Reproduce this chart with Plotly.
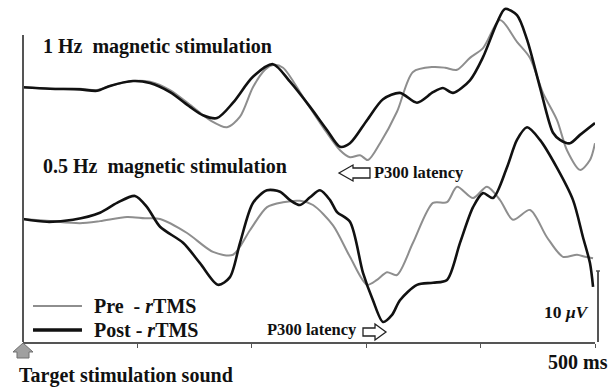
import plotly.graph_objects as go

# ---- data (time in ms, amplitude in microvolts relative to each baseline) ----
t_1hz_post = [0, 23.6, 49.8, 64.7, 76.0, 96.2, 111.0, 128.5, 146.0, 157.3, 169.6, 183.6, 201.0, 218.5,
              233.4, 250.9, 265.7, 277.1, 285.8, 300.7, 314.7, 329.5, 344.4, 358.4, 367.1, 375.9, 390.7,
              402.1, 414.3, 421.3, 431.8, 440.6, 451.9, 463.3, 469.4, 478.1, 486.9, 500]
v_1hz_post = [0, -0.2, -0.3, -0.5, 0.2, 0.9, 0.6, -0.7, -2.8, -4.0, -4.4, -2.2, 1.5, 3.3,
              0.8, -2.8, -6.1, -8.5, -8.0, -4.7, -1.7, -0.8, -2.2, -0.7, -0.1, -0.8, 1.0,
              4.3, 9.2, 11.2, 10.3, 6.8, 0.0, -6.5, -7.5, -8.0, -6.8, -5.1]

t_1hz_pre = [0, 23.6, 49.8, 64.7, 76.0, 96.2, 111.0, 128.5, 146.0, 163.5, 178.3, 189.7, 201.0, 211.5,
             218.5, 227.3, 244.8, 262.2, 277.1, 285.8, 294.6, 301.6, 312.1, 326.9, 340.9, 358.4, 368.9,
             379.4, 390.7, 402.1, 417.0, 431.8, 443.2, 454.5, 466.8, 475.5, 486.9, 495.6, 500]
v_1hz_pre = [0, -0.2, -0.2, -0.4, 0.2, 0.9, 0.8, -0.4, -2.5, -4.7, -5.7, -4.2, 0.0, 2.5,
             3.2, 2.8, -1.4, -5.7, -9.0, -10.0, -9.7, -10.4, -8.0, -3.5, 2.2, 2.9, 2.8,
             2.5, 4.2, 5.6, 9.6, 6.5, 4.2, -0.8, -4.7, -9.0, -11.8, -10.4, -8.0]

t_05hz_post = [0, 21.0, 43.7, 67.3, 82.2, 97.9, 108.4, 119.8, 139.9, 154.7, 170.5, 180.9, 189.7, 201.0,
               213.3, 224.7, 233.4, 242.1, 250.9, 259.6, 268.4, 274.5, 285.8, 297.2, 305.9, 314.7, 322.6,
               329.5, 344.4, 358.4, 370.6, 382.0, 393.4, 402.1, 410.8, 423.1, 431.8, 440.6, 451.9, 466.8,
               480.8, 489.5, 495.6, 498.3]
v_05hz_post = [0, -0.4, -0.1, 0.9, 2.3, 3.3, 1.7, -1.1, -3.4, -6.3, -9.4, -8.3, -3.4, 2.3,
               4.1, 3.9, 2.7, 2.0, 3.1, 4.1, 2.7, 1.0, -0.4, -7.7, -11.6, -14.7, -13.7,
               -11.6, -9.4, -9.1, -8.7, -3.4, 1.7, 3.7, 3.0, 7.4, 11.3, 13.1, 11.3, 7.3,
               2.7, -2.6, -6.3, -9.7]

t_05hz_pre = [0, 23.6, 49.8, 67.3, 90.9, 106.6, 119.8, 143.4, 166.1, 183.6, 198.4, 213.3, 227.3, 242.1,
              253.5, 271.0, 285.8, 300.7, 309.4, 318.2, 326.9, 340.9, 358.4, 370.6, 379.4, 393.4, 405.6,
              417.0, 428.3, 443.2, 458.0, 472.0, 484.3, 491.3, 498.3]
v_05hz_pre = [0, -0.3, -0.6, -0.3, 0.3, 0.1, 0.0, -2.0, -4.7, -5.1, -1.6, 1.7, 2.4, 2.6,
              2.0, -0.9, -5.4, -9.4, -8.7, -7.6, -8.0, -3.4, 2.3, 2.4, 4.6, 3.0, 4.6,
              2.7, -0.1, 1.3, -2.6, -5.4, -5.1, -5.4, -5.6]

tick_ms = [0, 100, 200, 300, 400, 500]

GRAY = "#8e8e8e"
BLACK = "#111111"
AXC = "#555555"
FONT = "Liberation Serif"

fig = go.Figure()
fig.add_trace(go.Scatter(x=t_1hz_pre, y=v_1hz_pre, mode="lines", yaxis="y",
                         line=dict(color=GRAY, width=2, shape="spline", smoothing=0.8)))
fig.add_trace(go.Scatter(x=t_1hz_post, y=v_1hz_post, mode="lines", yaxis="y",
                         line=dict(color=BLACK, width=2.6, shape="spline", smoothing=0.8)))
fig.add_trace(go.Scatter(x=t_05hz_pre, y=v_05hz_pre, mode="lines", yaxis="y2",
                         line=dict(color=GRAY, width=2, shape="spline", smoothing=0.8)))
fig.add_trace(go.Scatter(x=t_05hz_post, y=v_05hz_post, mode="lines", yaxis="y2",
                         line=dict(color=BLACK, width=2.6, shape="spline", smoothing=0.8)))

shapes = []
# left vertical axis
shapes.append(dict(type="line", xref="paper", yref="paper", x0=0, x1=0, y0=0, y1=0.898,
                   line=dict(color=AXC, width=2)))
# scale bar 10 uV
shapes.append(dict(type="line", xref="paper", yref="paper", x0=1.0052, x1=1.0052, y0=0, y1=0.2076,
                   line=dict(color=AXC, width=2)))
shapes.append(dict(type="line", xref="paper", yref="paper", x0=1.0017, x1=1.0087, y0=0.2076, y1=0.2076,
                   line=dict(color=AXC, width=1.5)))
# legend lines
shapes.append(dict(type="line", xref="paper", yref="paper", x0=0.0175, x1=0.1031, y0=0.1053, y1=0.1053,
                   line=dict(color=GRAY, width=2)))
shapes.append(dict(type="line", xref="paper", yref="paper", x0=0.0175, x1=0.1031, y0=0.0351, y1=0.0351,
                   line=dict(color=BLACK, width=3.5)))
# stimulus marker (house-shaped arrow)
shapes.append(dict(type="path", xref="paper", yref="paper",
                   path="M 0,-0.003 L 0.0175,-0.0292 L 0.0105,-0.0292 L 0.0105,-0.0468 "
                        "L -0.0105,-0.0468 L -0.0105,-0.0292 L -0.0175,-0.0292 Z",
                   fillcolor="#a0a0a0", line=dict(color="#707070", width=1)))
# hollow arrow, upper (pointing left)
shapes.append(dict(type="path", xref="paper", yref="paper",
                   path="M 0.5524,0.4942 L 0.5769,0.5175 L 0.5769,0.5088 L 0.6066,0.5088 "
                        "L 0.6066,0.4795 L 0.5769,0.4795 L 0.5769,0.4708 Z",
                   fillcolor="white", line=dict(color="#222222", width=1.3)))
# hollow arrow, lower (pointing right)
shapes.append(dict(type="path", xref="paper", yref="paper",
                   path="M 0.5944,0.0409 L 0.6154,0.0409 L 0.6154,0.0526 L 0.6346,0.0292 "
                        "L 0.6154,0.0058 L 0.6154,0.0175 L 0.5944,0.0175 Z",
                   fillcolor="white", line=dict(color="#222222", width=1.3)))

def ann(text, x, y, size, xanchor="left"):
    return dict(text=text, x=x, y=y, xref="paper", yref="paper", xanchor=xanchor, yanchor="middle",
                showarrow=False, font=dict(family=FONT, size=size, color="#111111"))

annotations = [
    ann("<b>1 Hz  magnetic stimulation</b>", 0.031, 0.8626, 20),
    ann("<b>0.5 Hz  magnetic stimulation</b>", 0.031, 0.5117, 20),
    ann("<b>P300 latency</b>", 0.610, 0.4942, 16.5),
    ann("<b>P300 latency</b>", 0.587, 0.0351, 16.5, xanchor="right"),
    ann("<b>Pre  - <i>r</i>TMS</b>", 0.120, 0.1053, 20),
    ann("<b>Post - <i>r</i>TMS</b>", 0.120, 0.0351, 20),
    ann("<b>10 <i>μV</i></b>", 0.908, 0.0877, 17.5),
    ann("<b>500 ms</b>", 0.915, -0.0585, 20),
    ann("<b>Target stimulation sound</b>", -0.011, -0.0965, 20),
]

fig.update_layout(
    width=615, height=387, autosize=False,
    margin=dict(l=23, r=20, t=0, b=45, pad=0),
    paper_bgcolor="white", plot_bgcolor="white",
    showlegend=False,
    xaxis=dict(range=[0, 500], showgrid=False, zeroline=False, showline=True, linecolor=AXC,
               linewidth=2, ticks="outside", tickvals=tick_ms, ticklen=4, tickcolor=AXC,
               tickwidth=1, showticklabels=False),
    yaxis=dict(range=[-36.39, 12.47], visible=False, showgrid=False, zeroline=False),
    yaxis2=dict(range=[-17.57, 31.29], visible=False, showgrid=False, zeroline=False,
                overlaying="y"),
    shapes=shapes,
    annotations=annotations,
)

fig.write_html("out.html", config={"displayModeBar": False},
               post_script="document.body.style.margin='0';document.body.style.overflow='hidden';")
